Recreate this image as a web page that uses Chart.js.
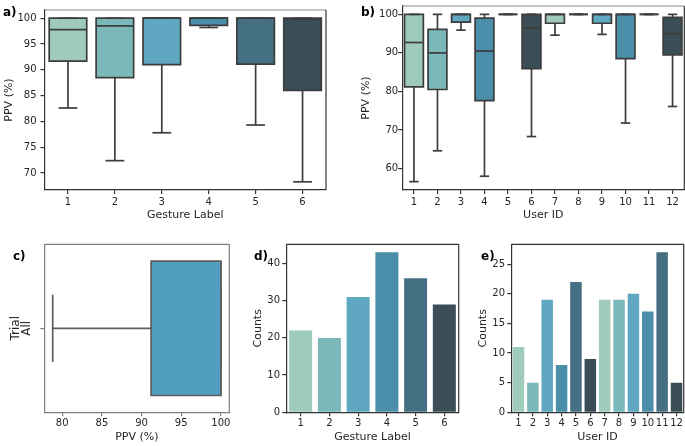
<!DOCTYPE html>
<html><head><meta charset="utf-8">
<script src="https://cdn.jsdelivr.net/npm/chart.js@4"></script>
<style>
body{margin:0;background:#fff;}
#wrap{position:relative;width:685px;height:446px;overflow:hidden;background:#fff;}
canvas{position:absolute;}
.pl{position:absolute;font:bold 12px "DejaVu Sans",sans-serif;color:#000;line-height:12px;white-space:nowrap;}
</style></head><body>
<div id="wrap">
<canvas id="ca" width="335" height="225" style="left:0;top:0"></canvas>
<canvas id="cb" width="345" height="225" style="left:340px;top:0"></canvas>
<canvas id="cc" width="235" height="216" style="left:0;top:230px"></canvas>
<canvas id="cd" width="230" height="216" style="left:235px;top:230px"></canvas>
<canvas id="ce" width="220" height="216" style="left:465px;top:230px"></canvas>
<div class="pl" style="left:3px;top:6px">a)</div>
<div class="pl" style="left:361px;top:6px">b)</div>
<div class="pl" style="left:13px;top:250px">c)</div>
<div class="pl" style="left:254px;top:250px">d)</div>
<div class="pl" style="left:481px;top:250px">e)</div>
</div>
<script>
// ---------- data ----------
const gestureLabels = ['1','2','3','4','5','6'];
const gestLow  = [82.6, 72.4, 77.8, 98.2, 79.3, 68.3];
const gestQ1   = [91.7, 88.5, 91.0, 98.6, 91.1, 86.0];
const gestMed  = [97.8, 98.5, 100, 100, 100, 99.8];
const gestQ3   = [100, 100, 100, 100, 100, 100];
const gestHigh = [100, 100, 100, 100, 100, 100];

const userLabels = ['1','2','3','4','5','6','7','8','9','10','11','12'];
const userLow  = [56.6, 64.6, 95.9, 58.0, 100, 68.3, 94.6, 100, 94.8, 71.8, 100, 76.1];
const userQ1   = [81.2, 80.5, 98.0, 77.6, 100, 85.9, 97.7, 100, 97.7, 88.5, 100, 89.5];
const userMed  = [92.7, 90.0, 100, 90.5, 100, 96.4, 100, 100, 100, 100, 100, 95.0];
const userQ3   = [100, 96.1, 100, 99.0, 100, 100, 100, 100, 100, 100, 100, 99.2];
const userHigh = [100, 100, 100, 100, 100, 100, 100, 100, 100, 100, 100, 100];

const trialLabels = ['All'];
const trialLow  = [78.8];
const trialQ1   = [91.2];
const trialMed  = [100];
const trialQ3   = [100];
const trialHigh = [100];

const gestureCounts = [22, 20, 31, 43, 36, 29];
const userCounts = [11, 5, 19, 8, 22, 9, 19, 19, 20, 17, 27, 5];

const ppvTicksGesture = [70, 75, 80, 85, 90, 95, 100];
const ppvTicksUser = [60, 70, 80, 90, 100];
const ppvTicksTrial = [80, 85, 90, 95, 100];
const countTicksGesture = [0, 10, 20, 30, 40];
const countTicksUser = [0, 5, 10, 15, 20, 25];

const palette = ['#9ecbbc', '#7bb8b9', '#60a8c2', '#4a8eaa', '#456f83', '#3b4d57'];
const trialColor = '#529ebf';

// ---------- helpers ----------
const FAM = "'DejaVu Sans', sans-serif";
Chart.defaults.font.family = FAM;
Chart.defaults.color = '#262626';
const TXT = '#262626';

function margins(lo, hi) { const d = (hi - lo) * 0.05; return [lo - d, hi + d]; }

function mkLinear(ticksArr, min, max, o) {
  return {
    type: 'linear', min: min, max: max,
    afterBuildTicks: s => { s.ticks = ticksArr.map(v => ({ value: v })); },
    grid: { display: true, drawOnChartArea: false, drawTicks: true, tickLength: 4, color: o.col, lineWidth: 1.2 },
    border: { display: true, color: o.col, width: 1.2 },
    ticks: { font: { size: 10 }, padding: o.pad, color: TXT },
    title: { display: true, text: o.title, font: { size: 11 }, color: TXT, padding: o.tpad },
    afterFit: s => { if (o.w != null) s.width = o.w; if (o.h != null) s.height = o.h; }
  };
}
function mkCat(o) {
  const rot = o.rot || 0;
  return {
    type: 'category', offset: true,
    grid: { display: true, offset: false, drawOnChartArea: false, drawTicks: true, tickLength: 4, color: o.col, lineWidth: 1.2 },
    border: { display: true, color: o.col, width: 1.2 },
    ticks: { font: { size: o.fs || 10 }, padding: o.pad, color: TXT, autoSkip: false, maxRotation: rot, minRotation: rot, crossAlign: o.cross || 'near' },
    title: { display: true, text: o.title, font: { size: o.tfs || 11 }, color: TXT, padding: o.tpad },
    afterFit: s => { if (o.w != null) s.width = o.w; if (o.h != null) s.height = o.h; }
  };
}
// whiskers, caps, medians and box outlines, positioned with the chart's own scales
function boxPlugin(low, med, high, q1, q3, color, lw) {
  return {
    id: 'boxw',
    afterDatasetsDraw(chart) {
      const meta = chart.getDatasetMeta(0);
      const horiz = chart.options.indexAxis === 'y';
      const vs = horiz ? chart.scales.x : chart.scales.y;
      const ctx = chart.ctx;
      ctx.save();
      ctx.strokeStyle = color; ctx.lineWidth = lw; ctx.lineCap = 'butt'; ctx.lineJoin = 'miter';
      const line = (a1, b1, a2, b2) => {
        ctx.beginPath();
        if (horiz) { ctx.moveTo(b1, a1); ctx.lineTo(b2, a2); } else { ctx.moveTo(a1, b1); ctx.lineTo(a2, b2); }
        ctx.stroke();
      };
      const rect = (c, w, v1, v2) => {
        ctx.beginPath();
        if (horiz) ctx.rect(Math.min(v1, v2), c - w / 2, Math.abs(v2 - v1), w);
        else ctx.rect(c - w / 2, Math.min(v1, v2), w, Math.abs(v2 - v1));
        ctx.stroke();
      };
      low.forEach((lo, i) => {
        const el = meta.data[i];
        const c = horiz ? el.y : el.x;
        const w = horiz ? el.height : el.width;
        const P = v => vs.getPixelForValue(v);
        if (q1[i] > lo) line(c, P(lo), c, P(q1[i]));
        if (high[i] > q3[i]) line(c, P(q3[i]), c, P(high[i]));
        line(c - w / 4, P(lo), c + w / 4, P(lo));
        line(c - w / 4, P(high[i]), c + w / 4, P(high[i]));
        rect(c, w, P(q1[i]), P(q3[i]));
        line(c - w / 2, P(med[i]), c + w / 2, P(med[i]));
      });
      ctx.restore();
    }
  };
}
function framePlugin(topCol, rightCol) {
  return {
    id: 'frame',
    afterDraw(chart) {
      const { left, right, top, bottom } = chart.chartArea;
      const ctx = chart.ctx;
      ctx.save(); ctx.lineWidth = 1.2;
      ctx.strokeStyle = topCol; ctx.beginPath(); ctx.moveTo(left, top); ctx.lineTo(right, top); ctx.stroke();
      ctx.strokeStyle = rightCol; ctx.beginPath(); ctx.moveTo(right, top); ctx.lineTo(right, bottom); ctx.stroke();
      ctx.restore();
    }
  };
}
const baseOpts = { responsive: false, animation: false, devicePixelRatio: 1, events: [] };
const noPlug = { legend: { display: false }, tooltip: { enabled: false } };
const DARK = '#333333', BOXLINE = '#3d3d3d';

// ---------- a) PPV by gesture ----------
const [aMin, aMax] = margins(Math.min(...gestLow), Math.max(...gestHigh));
new Chart(document.getElementById('ca'), {
  type: 'bar',
  data: { labels: gestureLabels, datasets: [{
    data: gestQ1.map((q, i) => [q, gestQ3[i]]),
    backgroundColor: gestureLabels.map((_, i) => palette[i % 6]),
    borderWidth: 0, barPercentage: 0.8, categoryPercentage: 1.0 }] },
  options: Object.assign({}, baseOpts, {
    layout: { padding: { top: 2, right: 9, left: 0, bottom: 0 } },
    plugins: noPlug,
    scales: {
      x: mkCat({ col: DARK, pad: 2, title: 'Gesture Label', tpad: { top: 0, bottom: 3.4 }, h: 35 }),
      y: mkLinear(ppvTicksGesture, aMin, aMax, { col: DARK, pad: 4, title: 'PPV (%)', tpad: { top: 2.4, bottom: 0 }, w: 44.5 })
    }
  }),
  plugins: [boxPlugin(gestLow, gestMed, gestHigh, gestQ1, gestQ3, BOXLINE, 1.7), framePlugin('#8a8a8a', DARK)]
});

// ---------- b) PPV by user ----------
const [bMin, bMax] = margins(Math.min(...userLow), Math.max(...userHigh));
new Chart(document.getElementById('cb'), {
  type: 'bar',
  data: { labels: userLabels, datasets: [{
    data: userQ1.map((q, i) => [q, userQ3[i]]),
    backgroundColor: userLabels.map((_, i) => palette[i % 6]),
    borderWidth: 0, barPercentage: 0.8, categoryPercentage: 1.0 }] },
  options: Object.assign({}, baseOpts, {
    layout: { padding: { top: 2, right: 0.7, left: 0, bottom: 0 } },
    plugins: noPlug,
    scales: {
      x: mkCat({ col: DARK, pad: 2, title: 'User ID', tpad: { top: 0, bottom: 3.4 }, h: 35 }),
      y: mkLinear(ppvTicksUser, bMin, bMax, { col: DARK, pad: 0, title: 'PPV (%)', tpad: { top: 20, bottom: 0 }, w: 62.2 })
    }
  }),
  plugins: [boxPlugin(userLow, userMed, userHigh, userQ1, userQ3, BOXLINE, 1.7), framePlugin('#8a8a8a', DARK)]
});

// ---------- c) PPV all trials ----------
const [cMin, cMax] = margins(Math.min(...trialLow), Math.max(...trialHigh));
const GRAY = '#7f7f7f';
new Chart(document.getElementById('cc'), {
  type: 'bar',
  data: { labels: trialLabels, datasets: [{
    data: trialQ1.map((q, i) => [q, trialQ3[i]]),
    backgroundColor: trialColor,
    borderWidth: 0, barPercentage: 0.8, categoryPercentage: 1.0 }] },
  options: Object.assign({}, baseOpts, {
    indexAxis: 'y',
    layout: { padding: { top: 14.3, right: 5.7, left: 0, bottom: 0 } },
    plugins: noPlug,
    scales: {
      x: mkLinear(ppvTicksTrial, cMin, cMax, { col: GRAY, pad: 1.5, title: 'PPV (%)', tpad: { top: 0, bottom: 2.4 }, h: 33.7 }),
      y: mkCat({ col: GRAY, pad: 5.5, title: 'Trial', tfs: 12, fs: 12, rot: 90, cross: 'center', tpad: { top: 9, bottom: 0 }, w: 44.3 })
    }
  }),
  plugins: [boxPlugin(trialLow, trialMed, trialHigh, trialQ1, trialQ3, '#5e5e5e', 1.7), framePlugin(GRAY, GRAY)]
});

// ---------- d) counts by gesture ----------
new Chart(document.getElementById('cd'), {
  type: 'bar',
  data: { labels: gestureLabels, datasets: [{
    data: gestureCounts,
    backgroundColor: gestureLabels.map((_, i) => palette[i % 6]),
    borderWidth: 0, barPercentage: 0.8, categoryPercentage: 1.0 }] },
  options: Object.assign({}, baseOpts, {
    layout: { padding: { top: 14.3, right: 6.3, left: 0, bottom: 0 } },
    plugins: noPlug,
    scales: {
      x: mkCat({ col: DARK, pad: 1.5, title: 'Gesture Label', tpad: { top: 0, bottom: 2.4 }, h: 33.7 }),
      y: mkLinear(countTicksGesture, 0, Math.max(...gestureCounts) * 1.05, { col: DARK, pad: 2.3, title: 'Counts', tpad: { top: 16.7, bottom: 0 }, w: 51.3 })
    }
  }),
  plugins: [framePlugin(DARK, DARK)]
});

// ---------- e) counts by user ----------
new Chart(document.getElementById('ce'), {
  type: 'bar',
  data: { labels: userLabels, datasets: [{
    data: userCounts,
    backgroundColor: userLabels.map((_, i) => palette[i % 6]),
    borderWidth: 0, barPercentage: 0.8, categoryPercentage: 1.0 }] },
  options: Object.assign({}, baseOpts, {
    layout: { padding: { top: 14.3, right: 1.3, left: 0, bottom: 0 } },
    plugins: noPlug,
    scales: {
      x: mkCat({ col: DARK, pad: 1.5, title: 'User ID', tpad: { top: 0, bottom: 2.4 }, h: 33.7 }),
      y: mkLinear(countTicksUser, 0, Math.max(...userCounts) * 1.05, { col: DARK, pad: 2.3, title: 'Counts', tpad: { top: 11.7, bottom: 0 }, w: 46.3 })
    }
  }),
  plugins: [framePlugin(DARK, DARK)]
});
</script>
</body></html>
